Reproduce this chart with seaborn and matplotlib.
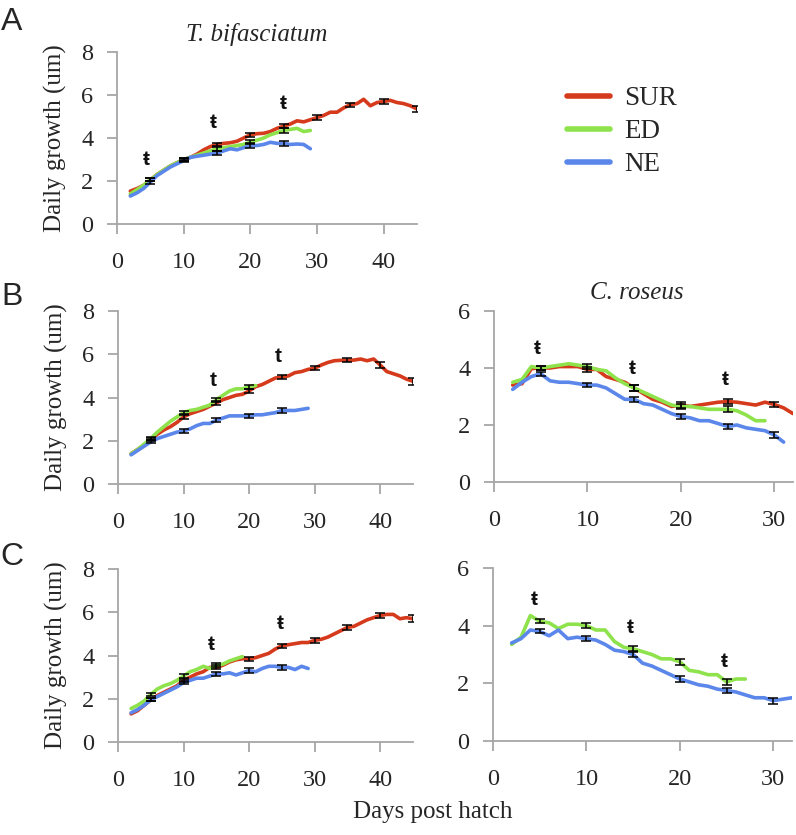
import numpy as np
import pandas as pd
import matplotlib
matplotlib.use("Agg")
import matplotlib.pyplot as plt
import seaborn as sns
from matplotlib.lines import Line2D

sns.set_style("white")
SERIF = ["Liberation Serif", "DejaVu Serif"]
plt.rcParams['font.family'] = SERIF

groups = ["SUR", "ED", "NE"]
colors = {"SUR": "#d63a1c", "ED": "#8ee24b", "NE": "#5b86ea"}

# --- panel A: T. bifasciatum (all fish) ---
A_sur = [1.53, 1.65, 1.8, 2.05, 2.3, 2.5, 2.7, 2.85, 3.0, 3.1, 3.25, 3.45, 3.6, 3.7, 3.75,
         3.78, 3.85, 4.0, 4.15, 4.2, 4.22, 4.3, 4.45, 4.55, 4.65, 4.8, 4.75, 4.85, 4.95, 5.05,
         5.2, 5.2, 5.4, 5.55, 5.6, 5.8, 5.5, 5.65, 5.7, 5.75, 5.65, 5.6, 5.5, 5.35]
A_ed = [1.4, 1.6, 1.8, 2.05, 2.3, 2.5, 2.7, 2.85, 3.0, 3.1, 3.2, 3.3, 3.4, 3.5, 3.55,
        3.6, 3.65, 3.7, 3.8, 3.9, 4.0, 4.15, 4.25, 4.35, 4.4, 4.45, 4.3, 4.35]
A_ne = [1.3, 1.45, 1.65, 1.95, 2.25, 2.45, 2.65, 2.8, 2.95, 3.1, 3.15, 3.2, 3.25, 3.3, 3.4,
        3.5, 3.45, 3.55, 3.65, 3.65, 3.7, 3.8, 3.75, 3.75, 3.7, 3.72, 3.7, 3.5]

# --- panel B left: T. bifasciatum ---
B1_sur = [1.4, 1.6, 1.8, 2.05, 2.3, 2.5, 2.65, 2.85, 3.1, 3.25, 3.35, 3.45, 3.6, 3.75, 3.9,
          4.0, 4.1, 4.15, 4.3, 4.5, 4.6, 4.75, 4.9, 4.95, 5.0, 5.15, 5.2, 5.3, 5.35, 5.5,
          5.62, 5.7, 5.72, 5.72, 5.73, 5.78, 5.7, 5.78, 5.5, 5.2, 5.1, 5.0, 4.85, 4.75]
B1_ed = [1.4, 1.6, 1.85, 2.1, 2.4, 2.65, 2.9, 3.1, 3.3, 3.4, 3.45, 3.55, 3.65, 3.9, 4.1,
         4.3, 4.4, 4.4, 4.5, 4.55]
B1_ne = [1.35, 1.55, 1.75, 1.95, 2.1, 2.2, 2.3, 2.4, 2.45, 2.55, 2.7, 2.8, 2.8, 2.95, 3.05,
         3.15, 3.15, 3.15, 3.15, 3.2, 3.2, 3.25, 3.3, 3.4, 3.4, 3.4, 3.45, 3.5]

# --- panel B right: C. roseus ---
B2_sur = [3.4, 3.45, 3.98, 4.0, 4.0, 4.05, 4.05, 4.05, 3.95, 3.95, 3.7, 3.6, 3.5, 3.3, 3.1,
          2.9, 2.8, 2.65, 2.7, 2.65, 2.7, 2.75, 2.8, 2.82, 2.8, 2.75, 2.7, 2.8, 2.72, 2.6, 2.4]
B2_ed = [3.5, 3.6, 4.05, 4.0, 4.05, 4.1, 4.15, 4.1, 4.05, 3.95, 3.9, 3.65, 3.45, 3.3, 3.15,
         3.0, 2.85, 2.7, 2.65, 2.65, 2.6, 2.55, 2.55, 2.55, 2.5, 2.35, 2.15, 2.15]
B2_ne = [3.25, 3.5, 3.7, 3.8, 3.55, 3.5, 3.5, 3.45, 3.4, 3.4, 3.3, 3.1, 2.9, 2.9, 2.75,
         2.7, 2.55, 2.4, 2.3, 2.25, 2.15, 2.15, 2.05, 1.95, 2.0, 1.9, 1.85, 1.8, 1.65, 1.4]

# --- panel C left: T. bifasciatum ---
C1_sur = [1.3, 1.45, 1.7, 1.95, 2.15, 2.3, 2.45, 2.6, 2.85, 3.0, 3.15, 3.25, 3.45, 3.45, 3.55,
          3.7, 3.8, 3.85, 3.85, 3.9, 4.0, 4.1, 4.3, 4.45, 4.5, 4.55, 4.6, 4.6, 4.7, 4.75,
          4.85, 5.0, 5.15, 5.3, 5.35, 5.5, 5.65, 5.75, 5.85, 5.9, 5.9, 5.7, 5.75, 5.7]
C1_ed = [1.55, 1.7, 1.9, 2.2, 2.45, 2.6, 2.7, 2.85, 3.05, 3.25, 3.35, 3.5, 3.4, 3.55, 3.6,
         3.75, 3.85, 3.95]
C1_ne = [1.35, 1.5, 1.7, 1.95, 2.1, 2.25, 2.4, 2.55, 2.75, 2.85, 2.95, 2.95, 3.05, 3.15, 3.15,
         3.2, 3.1, 3.2, 3.3, 3.25, 3.4, 3.5, 3.5, 3.45, 3.45, 3.35, 3.5, 3.4]

# --- panel C right: C. roseus ---
C2_ed = [3.35, 3.6, 4.35, 4.15, 4.1, 3.9, 4.05, 4.05, 4.0, 3.85, 3.85, 3.45, 3.25, 3.2, 3.1,
         3.0, 2.85, 2.85, 2.75, 2.45, 2.4, 2.3, 2.3, 2.05, 2.15, 2.15]
C2_ne = [3.4, 3.55, 3.85, 3.8, 3.65, 3.85, 3.55, 3.6, 3.55, 3.5, 3.35, 3.15, 3.1, 3.0, 2.7,
         2.6, 2.45, 2.3, 2.15, 2.05, 1.95, 1.9, 1.8, 1.75, 1.7, 1.6, 1.5, 1.5, 1.4, 1.45, 1.5]

# standard error half widths at every 5th day
err_small = [0.07, 0.08, 0.09, 0.1, 0.1, 0.1, 0.1, 0.12, 0.15]

# significance marks (day, height)
A_marks = [(4.4, 3.0, "ŧ"), (14.5, 4.7, "ŧ"), (24.9, 5.6, "ŧ")]
B1_marks = [(14.5, 4.8, "t"), (24.4, 5.9, "t")]
B2_marks = [(4.6, 4.7, "ŧ"), (14.8, 4.0, "ŧ"), (24.8, 3.6, "ŧ")]
C1_marks = [(14.2, 4.5, "ŧ"), (24.7, 5.5, "ŧ")]
C2_marks = [(4.4, 4.9, "ŧ"), (14.7, 3.95, "ŧ"), (24.8, 2.75, "ŧ")]

W, H = 796, 835
fig = plt.figure(figsize=(W / 100, H / 100), dpi=100)


def make_ax(left, right, bottom, top):
    return fig.add_axes([left / W, 1 - bottom / H, (right - left) / W, (bottom - top) / H])


def draw_panel(ax, series, xmax, ymax, marks, ylabel=False):
    frames = []
    for g, vals in series.items():
        days = np.arange(2, 2 + len(vals))
        frames.append(pd.DataFrame({"day": days, "growth": vals, "group": g}))
    df = pd.concat(frames, ignore_index=True)
    sns.lineplot(data=df, x="day", y="growth", hue="group", palette=colors,
                 hue_order=[g for g in groups if g in series], lw=2.6,
                 legend=False, ax=ax, zorder=3)
    for g, vals in series.items():
        sub = df[(df.group == g) & (df.day % 5 == 0)]
        ax.errorbar(sub.day, sub.growth, yerr=err_small[:len(sub)], fmt="none",
                    ecolor="black", elinewidth=1.1, capsize=3.5, capthick=1.1, zorder=5)
    for x, y, s in marks:
        ax.text(x, y, s, ha="center", va="center", fontsize=15, fontweight="bold",
                family=["Liberation Sans", "DejaVu Sans"], color="#111111")
    ax.set_xlim(0, xmax)
    ax.set_ylim(0, ymax)
    ax.set_xticks(np.arange(0, xmax, 10))
    ax.set_yticks(np.arange(0, ymax + 1, 2))
    for sp in ["top", "right"]:
        ax.spines[sp].set_visible(False)
    for sp in ["left", "bottom"]:
        ax.spines[sp].set_color("#a6a6a6")
        ax.spines[sp].set_linewidth(1.3)
    ax.tick_params(direction="out", length=7, width=1.3, color="#a6a6a6",
                   labelsize=17.5, left=True, bottom=True)
    ax.tick_params(axis="x", pad=13)
    ax.tick_params(axis="y", pad=10)
    for lab in ax.get_xticklabels() + ax.get_yticklabels():
        lab.set_family(SERIF)
    ax.set_xlabel("")
    if ylabel:
        ax.set_ylabel("Daily growth (um)", fontsize=18, family=SERIF)
        ax.yaxis.set_label_coords(-0.168, 0.5)
    else:
        ax.set_ylabel("")


axA = make_ax(117, 417, 224, 52)
draw_panel(axA, {"SUR": A_sur, "ED": A_ed, "NE": A_ne}, 45, 8, A_marks, ylabel=True)

axB1 = make_ax(118, 413, 484, 311)
draw_panel(axB1, {"SUR": B1_sur, "ED": B1_ed, "NE": B1_ne}, 45, 8, B1_marks, ylabel=True)

axB2 = make_ax(494, 793, 482, 311)
draw_panel(axB2, {"SUR": B2_sur, "ED": B2_ed, "NE": B2_ne}, 32, 6, B2_marks)

axC1 = make_ax(118, 413, 742, 569)
draw_panel(axC1, {"SUR": C1_sur, "ED": C1_ed, "NE": C1_ne}, 45, 8, C1_marks, ylabel=True)

axC2 = make_ax(493, 792, 741, 568)
draw_panel(axC2, {"ED": C2_ed, "NE": C2_ne}, 32, 6, C2_marks)

fig.text(257 / W, 1 - 35 / H, "T. bifasciatum", style="italic", fontsize=18,
         ha="center", va="center", family=SERIF)
fig.text(637 / W, 1 - 293 / H, "C. roseus", style="italic", fontsize=18,
         ha="center", va="center", family=SERIF)
fig.text(433 / W, 1 - 812 / H, "Days post hatch", fontsize=18, ha="center",
         va="center", family=SERIF)

for letter, y in [("A", 22), ("B", 297), ("C", 557)]:
    fig.text(12 / W, 1 - y / H, letter, fontsize=23, ha="center", va="center",
             family=["Liberation Sans", "DejaVu Sans"])

handles = [Line2D([0], [0], color=colors[g], lw=4) for g in groups]
fig.legend(handles, groups, loc="upper left", bbox_to_anchor=(567 / W, 1 - 86 / H),
           frameon=False, prop={"family": SERIF, "size": 19.5}, handlelength=1.6,
           handletextpad=0.5, labelspacing=0.3, borderpad=0, borderaxespad=0)

fig.savefig("out.png", dpi=100)
